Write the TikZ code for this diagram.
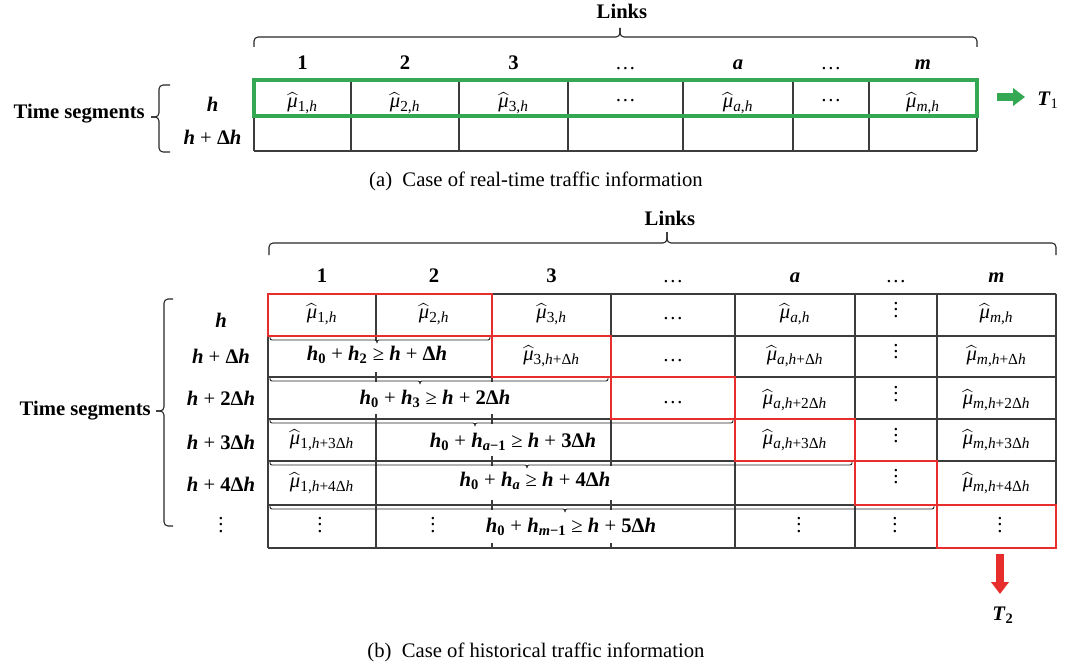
\documentclass[tikz,border=0pt]{standalone}
\usepackage{fontspec}
\setmainfont{Liberation Serif}
\usepackage{amsmath}
\usetikzlibrary{arrows.meta}
\definecolor{tgreen}{RGB}{52,168,83}
\definecolor{tred}{RGB}{232,45,45}
\definecolor{tline}{RGB}{60,60,60}
\newcommand\fz{\fontsize{15.5}{18}\selectfont}
\newcommand\bi[1]{\textbf{\textit{#1}}}
\newcommand\muh[1]{$\widehat{\mbox{\itshape μ}}$\textsubscript{\fontsize{11.5}{12}\selectfont #1}}
\newcommand\vdt{\vbox{\baselineskip4.7pt\lineskiplimit0pt\hbox{.}\hbox{.}\hbox{.}}}
% horizontal brace: style, x1, x2, xtip, yend, ymid, ytip
\newcommand\hbr[7]{%
 \draw[#1] (#2,#5) |- (#4,#6) -- (#4,#7);
 \draw[#1] (#3,#5) |- (#4,#6) -- (#4,#7);}
% vertical brace: style, y1, y2, ytip, xend, xmid, xtip
\newcommand\vbr[7]{%
 \draw[#1] (#5,#2) -| (#6,#4) -- (#7,#4);
 \draw[#1] (#5,#3) -| (#6,#4) -- (#7,#4);}
% interrupted column line: ticks at top and bottom of a row
\newcommand\tk[3]{\draw[tl] (#1,#2) -- ++(0,5); \draw[tl] (#1,#3) -- ++(0,-5);}
\tikzset{
 tl/.style={draw=tline, line width=0.8pt},
 gbox/.style={draw=tgreen, line width=2.3pt},
 rbox/.style={draw=tred, line width=1.6pt},
 brc/.style={draw=black!85, line width=0.8pt, rounded corners=3pt},
 sbrc/.style={draw=black!85, line width=0.7pt, rounded corners=1.5pt},
 garrow/.style={draw=tgreen, line width=5.3pt, -{Triangle[length=9pt,width=13pt]}},
 rarrow/.style={draw=tred, line width=5.3pt, -{Triangle[length=9pt,width=13pt]}},
 hd/.style={anchor=base, font=\fz\bfseries},
 hdots/.style={anchor=base, font=\fz},
 ts/.style={anchor=east, font=\fz\bfseries},
}
\begin{document}
\begin{tikzpicture}[x=0.75pt,y=-0.75pt, font=\fz, every node/.style={inner sep=0pt}]
\useasboundingbox (0,0) rectangle (1065,667);

%================ (a) ================
\node[hd] (La) at (622,19) {Links};
\hbr{brc}{254}{977}{620}{47}{37}{28}
\node[hd] (ha1) at (302.5,70) {1};
\node[hd] (ha2) at (405,70) {2};
\node[hd] (ha3) at (513.5,70) {3};
\node[hdots] (ha4) at (625.5,70) {…};
\node[hd] (ha5) at (738,70) {\bi{a}};
\node[hdots] (ha6) at (831,70) {…};
\node[hd] (ha7) at (923,70) {\bi{m}};

\foreach \y in {80,116,151} \draw[tl] (254,\y) -- (977,\y);
\foreach \x in {254,351,459,568,683,793,869,977} \draw[tl] (\x,80) -- (\x,151);
\draw[gbox] (254,80) rectangle (977,116);

\node (ra1) at (212.5,104) {\bi{h}};
\node (ra2) at (212.5,137) {\bi{h} + \textbf{Δ}\bi{h}};
\vbr{brc}{85}{152}{117}{170}{159}{151}
\node[ts] (TSa) at (145,114) {Time segments};

\node (ca1) at (302.5,103) {\muh{1,\textit{h}}};
\node (ca2) at (405,103) {\muh{2,\textit{h}}};
\node (ca3) at (513.5,103) {\muh{3,\textit{h}}};
\node[anchor=base] (ca4) at (625.5,102) {…};
\node (ca5) at (738,103) {\muh{\textit{a},\textit{h}}};
\node[anchor=base] (ca6) at (831,102) {…};
\node (ca7) at (923,103) {\muh{\textit{m},\textit{h}}};

\coordinate (ga0) at (997,97);
\coordinate (ga1) at (1025,97);
\draw[garrow] (ga0) -- (ga1);
\node (T1) at (1048,100) {\bi{T}\textsubscript{1}};

\node (capa) at (536,181) {(a)\enspace Case of real-time traffic information};

%================ (b) ================
\node[hd] (Lb) at (670,225) {Links};
\hbr{brc}{269}{1056}{667}{255}{243}{232}
\node[hd] (hb1) at (322,282.5) {1};
\node[hd] (hb2) at (434,282.5) {2};
\node[hd] (hb3) at (551.5,282.5) {3};
\node[hdots] (hb4) at (673,282.5) {…};
\node[hd] (hb5) at (795,282.5) {\bi{a}};
\node[hdots] (hb6) at (896,282.5) {…};
\node[hd] (hb7) at (996.5,282.5) {\bi{m}};

% grid
\foreach \y in {294,336,377,419,461,505,548} \draw[tl] (268,\y) -- (1056,\y);
\foreach \x in {268,735,855,937,1056} \draw[tl] (\x,294) -- (\x,548);
\draw[tl] (376,294) -- (376,336);
\draw[tl] (376,419) -- (376,548);
\draw[tl] (492,294) -- (492,377);
\draw[tl] (611,294) -- (611,461);
\tk{376}{336}{377} \tk{376}{377}{419}
\tk{492}{377}{419} \tk{492}{419}{461} \tk{492}{461}{505} \tk{492}{505}{548}
\tk{611}{461}{505} \tk{611}{505}{548}

% braces under merged rows
\hbr{sbrc}{270}{490}{377}{337}{340}{343}
\hbr{sbrc}{270}{608}{420}{378}{381}{384}
\hbr{sbrc}{270}{733}{475}{420}{423}{426}
\hbr{sbrc}{270}{852}{527}{462}{465}{468}
\hbr{sbrc}{270}{934}{565}{506}{509}{512}

% red boxes
\draw[rbox] (268,294) rectangle (492,336);
\draw[rbox] (492,336) rectangle (611,377);
\draw[rbox] (611,377) rectangle (735,419);
\draw[rbox] (735,419) rectangle (855,461);
\draw[rbox] (855,461) rectangle (937,505);
\draw[rbox] (937,505) rectangle (1056,548);

% row labels
\node (rb1) at (221,320) {\bi{h}};
\node (rb2) at (221,356) {\bi{h} + \textbf{Δ}\bi{h}};
\node (rb3) at (221,398.5) {\bi{h} + \textbf{2Δ}\bi{h}};
\node (rb4) at (221,442) {\bi{h} + \textbf{3Δ}\bi{h}};
\node (rb5) at (221,484) {\bi{h} + \textbf{4Δ}\bi{h}};
\node (rb6) at (221,525) {\vdt};
\vbr{brc}{299}{526}{411}{173}{164}{156}
\node[ts] (TSb) at (151,411) {Time segments};

% row 1
\node (b11) at (322,314) {\muh{1,\textit{h}}};
\node (b12) at (434,314) {\muh{2,\textit{h}}};
\node (b13) at (551.5,314) {\muh{3,\textit{h}}};
\node[anchor=base] (b14) at (673,319.5) {…};
\node (b15) at (795,314) {\muh{\textit{a},\textit{h}}};
\node (b16) at (896,310) {\vdt};
\node (b17) at (996.5,314) {\muh{\textit{m},\textit{h}}};
% row 2
\node (e2) at (377,355) {\bi{h}\textsubscript{\textbf{0}} + \bi{h}\textsubscript{\textbf{2}} ≥ \bi{h} + \textbf{Δ}\bi{h}};
\node (b23) at (551.5,356) {\muh{3,\textit{h}+Δ\textit{h}}};
\node[anchor=base] (b24) at (673,361) {…};
\node (b25) at (795,356) {\muh{\textit{a},\textit{h}+Δ\textit{h}}};
\node (b26) at (896,351.5) {\vdt};
\node (b27) at (996.5,356) {\muh{\textit{m},\textit{h}+Δ\textit{h}}};
% row 3
\node (e3) at (435,399) {\bi{h}\textsubscript{\textbf{0}} + \bi{h}\textsubscript{\textbf{3}} ≥ \bi{h} + \textbf{2Δ}\bi{h}};
\node[anchor=base] (b34) at (673,403) {…};
\node (b35) at (795,400) {\muh{\textit{a},\textit{h}+2Δ\textit{h}}};
\node (b36) at (896,394) {\vdt};
\node (b37) at (996.5,400) {\muh{\textit{m},\textit{h}+2Δ\textit{h}}};
% row 4
\node (b41) at (322,440) {\muh{1,\textit{h}+3Δ\textit{h}}};
\node (e4) at (513,442) {\bi{h}\textsubscript{\textbf{0}} + \bi{h}\textsubscript{\textbf{\textit{a}−1}} ≥ \bi{h} + \textbf{3Δ}\bi{h}};
\node (b45) at (795,440) {\muh{\textit{a},\textit{h}+3Δ\textit{h}}};
\node (b46) at (896,435.5) {\vdt};
\node (b47) at (996.5,440) {\muh{\textit{m},\textit{h}+3Δ\textit{h}}};
% row 5
\node (b51) at (322,483) {\muh{1,\textit{h}+4Δ\textit{h}}};
\node (e5) at (535,481) {\bi{h}\textsubscript{\textbf{0}} + \bi{h}\textsubscript{\textbf{\textit{a}}} ≥ \bi{h} + \textbf{4Δ}\bi{h}};
\node (b56) at (896,476.5) {\vdt};
\node (b57) at (996.5,483) {\muh{\textit{m},\textit{h}+4Δ\textit{h}}};
% row 6
\node (b61) at (320,525) {\vdt};
\node (b62) at (433,525) {\vdt};
\node (e6) at (571,527) {\bi{h}\textsubscript{\textbf{0}} + \bi{h}\textsubscript{\textbf{\textit{m}−1}} ≥ \bi{h} + \textbf{5Δ}\bi{h}};
\node (b65) at (799,525) {\vdt};
\node (b66) at (895,525) {\vdt};
\node (b67) at (1000,525) {\vdt};

\coordinate (ra0) at (1000,554);
\coordinate (ra1) at (1000,594);
\draw[rarrow] (ra0) -- (ra1);
\node (T2) at (1003,615) {\bi{T}\textsubscript{\textbf{2}}};

\node (capb) at (536,652) {(b)\enspace Case of historical traffic information};
\end{tikzpicture}
\end{document}
